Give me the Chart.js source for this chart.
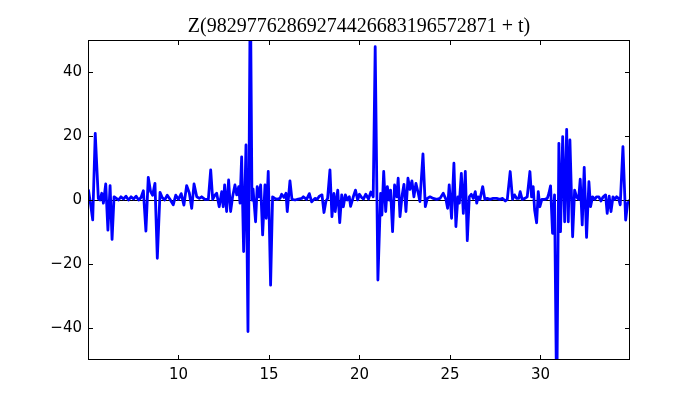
<!DOCTYPE html>
<html>
<head>
<meta charset="utf-8">
<script src="https://cdn.jsdelivr.net/npm/chart.js@4/dist/chart.umd.min.js"></script>
<style>
  html, body { margin: 0; padding: 0; background: #fff; }
  canvas { display: block; }
</style>
</head>
<body>
<canvas id="zChart" width="700" height="400"></canvas>
<script>
const titleText = 'Z(98297762869274426683196572871 + t)';

// t values (x) and Z values (y)
const tValues = [
  5.03, 5.15, 5.26, 5.40, 5.57, 5.66, 5.76, 5.85, 5.98, 6.10, 6.22, 6.33, 6.44,
  6.55, 6.68, 6.82, 6.96, 7.10, 7.24, 7.38, 7.52, 7.66, 7.80, 7.93,
  8.06, 8.20, 8.33, 8.46, 8.57, 8.70, 8.83, 8.98,
  9.10, 9.24, 9.38, 9.52, 9.71, 9.85, 10.00, 10.15, 10.30, 10.45, 10.60, 10.73, 10.86,
  11.01, 11.15, 11.28, 11.46, 11.65, 11.78, 11.89, 12.02, 12.11, 12.25, 12.39, 12.47,
  12.55, 12.66, 12.77, 12.88, 12.99, 13.12, 13.22, 13.33, 13.40, 13.49, 13.60, 13.73,
  13.84, 13.97, 14.06, 14.12, 14.26, 14.35, 14.45, 14.54, 14.65, 14.78, 14.85, 14.96,
  15.09, 15.20, 15.33, 15.43, 15.61, 15.70, 15.83, 15.94, 16.01, 16.16, 16.27, 16.44,
  16.62, 16.81, 16.90, 17.08, 17.23, 17.36, 17.54, 17.67, 17.78, 17.93, 18.04, 18.15,
  18.24, 18.37, 18.48, 18.59, 18.66, 18.80, 18.91, 19.02, 19.11, 19.22, 19.33, 19.44,
  19.51, 19.66, 19.78, 19.90, 20.00, 20.12, 20.22, 20.35, 20.50, 20.63, 20.76, 20.87,
  21.02, 21.17, 21.24, 21.34, 21.45, 21.54, 21.65, 21.72, 21.83, 21.94, 22.06, 22.14,
  22.24, 22.36, 22.46, 22.57, 22.68, 22.79, 22.90, 23.01, 23.12, 23.25, 23.34, 23.51,
  23.64, 23.75, 23.90, 24.08, 24.27, 24.45, 24.63, 24.78, 24.87, 24.96, 25.09, 25.22,
  25.33, 25.44, 25.52, 25.63, 25.74, 25.85, 25.96, 26.07, 26.18, 26.29, 26.40, 26.48,
  26.56, 26.66, 26.81, 26.93, 27.06, 27.21, 27.39, 27.58, 27.76, 27.91, 28.06, 28.17,
  28.33, 28.46, 28.57, 28.69, 28.80, 28.88, 28.99, 29.14, 29.27, 29.42, 29.51, 29.60,
  29.68, 29.79, 29.88, 29.97, 30.08, 30.25, 30.38, 30.47, 30.56, 30.67, 30.78, 30.90,
  31.02, 31.11, 31.23, 31.34, 31.45, 31.54, 31.63, 31.78, 31.89, 32.00, 32.11, 32.20,
  32.31, 32.42, 32.55, 32.68, 32.77, 32.88, 33.01, 33.10, 33.23, 33.34, 33.47, 33.60,
  33.69, 33.80, 33.90, 34.01, 34.12, 34.21, 34.32, 34.41, 34.56, 34.71, 34.82, 34.94
];
const zValues = [
  3.0, -1.6, -6.2, 20.8, 0.5, 0, 2.1, -1.0, 5.0, -9.4, 4.5, -12.3, 1.0,
  0.6, 0, 1.0, 0.3, 1.2, 0, 1.0, 0.3, 1.2, 0, 0.8,
  2.9, -9.7, 7.1, 2.6, 1.5, 5.2, -18.2, 2.4,
  0.8, 0, 1.5, 0.3, -1.5, 1.5, 0.2, 2.0, -1.6, 4.5, 2.2, -2.6, 5.0,
  1.0, 0.5, 1.0, 0.2, 0.2, 9.4, 0.2, 1.6, 2.1, -2.1, 2.6, -2.1,
  4.7, -3.6, 6.25, -3.6, 1.0, 4.7, 1.6, 4.2, -1.0, 13.5, -16.1, 17.2,
  -41.1, 70, 0, 3.5, -6.8, 4.2, 1.0, 4.7, -10.9, 4.7, -5.7, 8.9,
  -26.6, 1.0, 0.5, 0.2, 0.5, 1.8, 0.8, 2.1, -3.6, 6.0, 0.2, 0,
  0.3, 0.5, 1.0, 0.2, 2.0, -0.6, 0.5, 0.2, 1.2, 1.6, -3.9, -0.3,
  0.5, 9.4, -5.2, 2.1, -3.6, 3.1, -7.1, 1.6, -2.1, 1.6, 0, 1.0,
  -2.0, 1.0, 3.1, 0, 1.8, 0.8, 0.3, 1.8, 0.3, 2.5, 1.0, 47.9,
  -25.0, 2.1, -4.7, 8.9, -3.6, 4.2, 0, 3.1, -9.9, 4.7, 1.0, 6.8,
  -5.2, 1.6, 4.9, -3.6, 6.8, 3.3, 6.0, 1.0, 5.2, 2.1, -0.5, 14.4,
  -2.1, 0.5, 1.0, 0.5, 0.2, 0.5, 2.1, 0.2, -2.6, 4.7, -5.7, 11.5,
  -8.3, 1.0, -1.0, 8.3, -4.2, 8.9, -12.7, 1.0, 1.8, 0.5, 2.6, -1.0,
  1.0, 0.2, 4.2, 0.2, 0.5, 0.2, 0.5, 0.5, 0.2, 0.5, -0.3, 0.2,
  8.9, 0.2, 1.6, 0.5, 0.5, 2.6, 0.2, 0.5, 1.0, 8.9, 1.0, 4.2,
  -3.1, -7.1, 2.6, -2.1, 0.2, 0.2, 0.5, 2.1, 4.4, -10.4, 1.6, -65,
  17.7, -9.9, 19.8, -6.8, 22.1, -6.8, 18.75, -11.5, 3.1, 1.0, 0.2, 6.5,
  -7.8, 10.2, -11.7, 5.7, -2.1, 1.0, 0.2, 1.0, 1.0, -0.3, 1.0, 1.6,
  -4.2, 1.2, -3.6, 1.0, 0.2, 1.0, 0.5, -1.5, 16.7, -6.25, -1.0, 0
];

const xTicks = [10, 15, 20, 25, 30];
const yTicks = [-40, -20, 0, 20, 40];
const xRange = [5, 34.95];
const yRange = [-50, 50];

// frame + inward ticks on all four sides, like classic matplotlib
const frameTicks = {
    id: 'frameTicks',
    afterDatasetsDraw(chart) {
        const { ctx, chartArea: { left, right, top, bottom }, scales: { x, y } } = chart;
        const len = 5;
        ctx.save();
        ctx.strokeStyle = '#000';
        ctx.lineWidth = 1;
        ctx.beginPath();
        xTicks.forEach(v => {
            const px = Math.round(x.getPixelForValue(v)) + 0.5;
            ctx.moveTo(px, bottom); ctx.lineTo(px, bottom - len);
            ctx.moveTo(px, top); ctx.lineTo(px, top + len);
        });
        yTicks.forEach(v => {
            const py = Math.round(y.getPixelForValue(v)) + 0.5;
            ctx.moveTo(left, py); ctx.lineTo(left + len, py);
            ctx.moveTo(right, py); ctx.lineTo(right - len, py);
        });
        ctx.stroke();
        ctx.strokeRect(left + 0.5, top + 0.5, right - left - 1, bottom - top - 1);
        ctx.restore();
    }
};

const minusLabel = v => (v < 0 ? '\u2212' + Math.abs(v) : String(v));

new Chart(document.getElementById('zChart').getContext('2d'), {
    type: 'line',
    data: {
        datasets: [{
            data: tValues.map((t, i) => ({ x: t, y: zValues[i] })),
            borderColor: '#0000ff',
            borderWidth: 2.8,
            borderJoinStyle: 'round',
            borderCapStyle: 'round',
            pointRadius: 0,
            tension: 0,
            fill: false,
            clip: 0
        }]
    },
    options: {
        responsive: false,
        animation: false,
        devicePixelRatio: 1,
        layout: { padding: { left: 0, right: 70, top: 0, bottom: 0 } },
        plugins: {
            legend: { display: false },
            tooltip: { enabled: false },
            title: {
                display: true,
                text: titleText,
                fullSize: false,
                color: '#000',
                font: { family: 'Liberation Serif', size: 20, weight: 'normal' },
                padding: { top: 15, bottom: 1 }
            }
        },
        scales: {
            x: {
                type: 'linear',
                min: xRange[0],
                max: xRange[1],
                afterBuildTicks: s => { s.ticks = xTicks.map(v => ({ value: v })); },
                afterFit: s => { s.height = 40; },
                border: { display: false },
                grid: { display: false, drawTicks: false },
                ticks: {
                    color: '#000',
                    padding: 6,
                    maxRotation: 0,
                    font: { family: 'DejaVu Sans', size: 15 },
                    callback: minusLabel
                }
            },
            y: {
                min: yRange[0],
                max: yRange[1],
                afterBuildTicks: s => { s.ticks = yTicks.map(v => ({ value: v })); },
                afterFit: s => { s.width = 88; },
                border: { display: false },
                grid: {
                    drawTicks: false,
                    lineWidth: 1,
                    color: c => (c.tick && c.tick.value === 0 ? '#000' : 'rgba(0,0,0,0)')
                },
                ticks: {
                    color: '#000',
                    padding: 6,
                    font: { family: 'DejaVu Sans', size: 15 },
                    callback: minusLabel
                }
            }
        }
    },
    plugins: [frameTicks]
});
</script>
</body>
</html>
